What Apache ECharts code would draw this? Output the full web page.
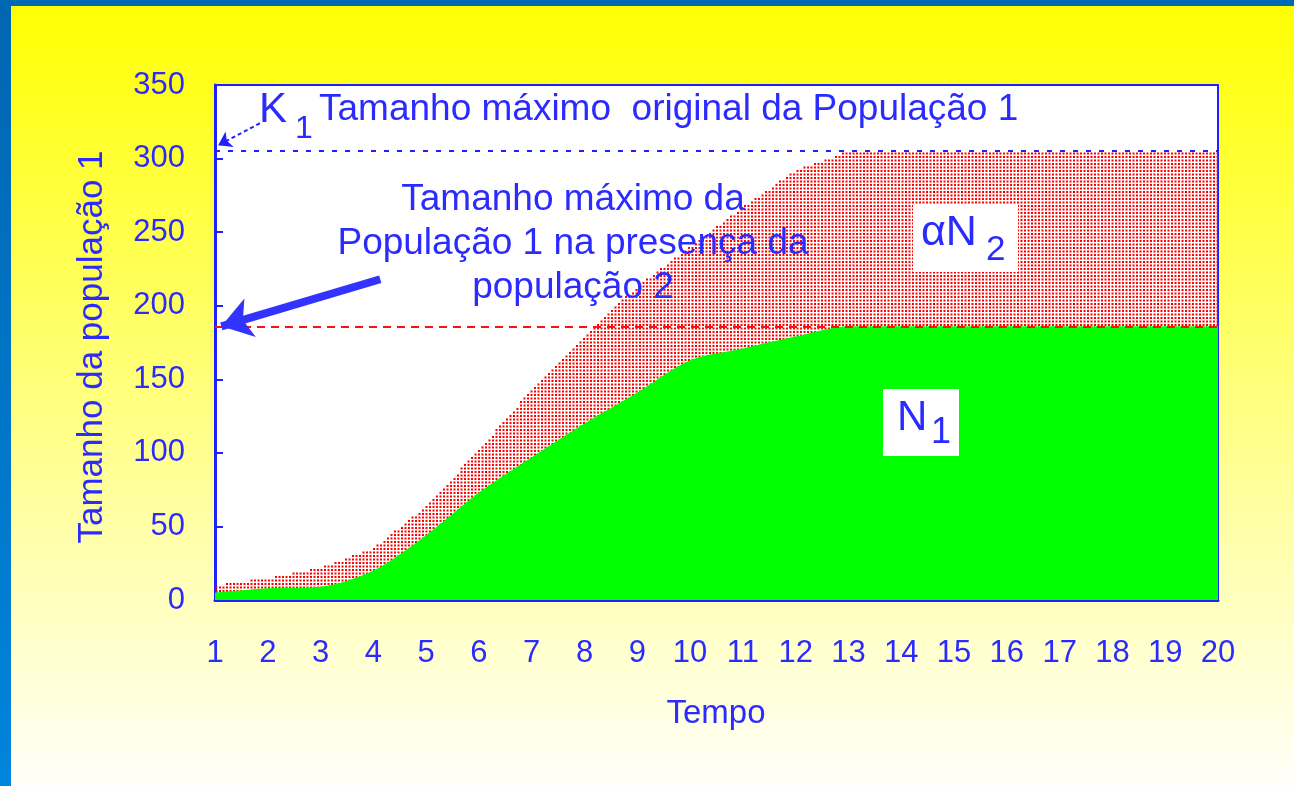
<!DOCTYPE html>
<html>
<head>
<meta charset="utf-8">
<script src="https://cdn.jsdelivr.net/npm/echarts@6/dist/echarts.min.js"></script>
<style>
html,body{margin:0;padding:0;width:1294px;height:786px;overflow:hidden;}
#c{width:1294px;height:786px;}
</style>
</head>
<body>
<div id="c"></div>
<script>
// ---- data ----
const tempo = [1,2,3,4,5,6,7,8,9,10,11,12,13,14,15,16,17,18,19,20];
const n1    = [5,8,9,20,44,73,97,120,141,163,171,179,186,186,186,186,186,186,186,186];
const total = [10,15,22,35,64,102,143,180,213,240,267,292,305,305,305,305,305,305,305,305];
const k1Original = 305;   // Tamanho máximo original da População 1
const k1Presence = 186;   // Tamanho máximo na presença da população 2
const yTitle = 'Tamanho da população 1';
const xTitle = 'Tempo';

const BLUE = '#2b2bff';
const FONT = '"Liberation Sans", Arial, sans-serif';

function interp(arr, t){
  for (let i = 0; i < tempo.length - 1; i++){
    if (t <= tempo[i+1]){
      const f = (t - tempo[i]) / (tempo[i+1] - tempo[i]);
      return arr[i] + f * (arr[i+1] - arr[i]);
    }
  }
  return arr[arr.length-1];
}

// dotted (αN2) region between N1 and N1+αN2, drawn through the axes
function renderDots(params, api){
  if (params.dataIndex !== 0) return null;
  const step = 3.5, s = 2.0;
  const tA = tempo[0], tB = tempo[tempo.length-1];
  const pA = api.coord([tA, 0]), pB = api.coord([tB, 0]);
  const yZero = pA[1];
  let d = '';
  for (let px = pA[0] + 1.5; px <= pB[0]; px += step){
    const t = tA + (px - pA[0]) / (pB[0] - pA[0]) * (tB - tA);
    const top = interp(total, t);
    const bot = Math.max(0, interp(n1, t) - 10);
    const yTop = api.coord([t, top])[1];
    const yBot = api.coord([t, bot])[1];
    for (let py = yZero - 2; py >= yTop; py -= step){
      if (py > yBot) continue;
      d += 'M' + (px - s/2).toFixed(2) + ' ' + (py - s/2).toFixed(2) + 'h' + s + 'v' + s + 'h-' + s + 'z';
    }
  }
  return {type:'path', shape:{pathData:d}, style:{fill:'#ff0000'}};
}

const chart = echarts.init(document.getElementById('c'), null, {renderer:'canvas'});

function txt(text, x, y, size, opts){
  opts = opts || {};
  return {
    type:'text', x:x, y:y, z:100, silent:true,
    rotation: opts.rotation || 0,
    style:{
      text:text, fill: BLUE, font: size + 'px ' + FONT,
      align: opts.align || 'left', textAlign: opts.align || 'left',
      verticalAlign: 'middle', textVerticalAlign: 'middle'
    }
  };
}

const option = {
  animation:false,
  backgroundColor:{type:'linear',x:0,y:0,x2:0,y2:1,colorStops:[{offset:0,color:'#ffff00'},{offset:1,color:'#fffffa'}]},
  grid:{left:215,right:76,top:85,bottom:186,show:true,backgroundColor:'#ffffff',borderColor:'#2020ff',borderWidth:2},
  xAxis:{
    type:'value', min:1, max:20, interval:1,
    axisLine:{show:true,onZero:false,lineStyle:{color:'#2020ff',width:3}},
    axisTick:{show:true,inside:true,length:8,lineStyle:{color:'#2020ff',width:2}},
    axisLabel:{color:BLUE,fontSize:31,fontFamily:FONT,margin:38},
    splitLine:{show:false}
  },
  yAxis:{
    type:'value', min:0, max:350, interval:50,
    axisLine:{show:true,lineStyle:{color:'#2020ff',width:3}},
    axisTick:{show:true,inside:true,length:8,lineStyle:{color:'#2020ff',width:2}},
    axisLabel:{color:BLUE,fontSize:31,fontFamily:FONT,margin:30},
    splitLine:{show:false}
  },
  series:[
    {
      name:'αN2', type:'custom', z:2, clip:true,
      data: tempo.map((t,i)=>[t,total[i]]),
      encode:{x:0,y:1},
      renderItem: renderDots
    },
    {
      name:'N1', type:'line', z:3,
      data: tempo.map((t,i)=>[t,n1[i]]),
      smooth:0.3, symbol:'none',
      lineStyle:{width:0},
      areaStyle:{color:'#00ff00',opacity:1},
      markLine:{
        silent:true, symbol:['none','none'], label:{show:false}, animation:false,
        data:[
          {yAxis:k1Original, lineStyle:{color:'#2020ff',width:2,type:[5,8]}},
          {yAxis:k1Presence, lineStyle:{color:'#ff1010',width:2,type:[8,6]}},
          [
            {coord:[4.13,218], symbol:'none', lineStyle:{color:'#3333ff',width:8,type:'solid'}},
            {coord:[1.12,186], symbol:'arrow', symbolSize:30}
          ],
          [
            {coord:[1.85,324], symbol:'none', lineStyle:{color:'#2020ff',width:2,type:[4,3]}},
            {coord:[1.06,309], symbol:'arrow', symbolSize:13}
          ]
        ]
      }
    }
  ],
  graphic:[
    {type:'rect', left:0, top:0, z:50, shape:{width:11,height:786}, style:{fill:{type:'linear',x:0,y:0,x2:0,y2:1,colorStops:[{offset:0,color:'#0066b0'},{offset:1,color:'#0084dc'}]}}},
    {type:'rect', left:0, top:0, z:50, shape:{width:1294,height:6}, style:{fill:'#0069b4'}},
    txt('K', 259, 110, 42),
    txt('1', 295, 129, 32),
    txt('Tamanho máximo  original da População 1', 319, 110, 37),
    txt('Tamanho máximo da', 573, 200, 37, {align:'center'}),
    txt('População 1 na presença da', 573, 244, 37, {align:'center'}),
    txt('população 2', 573, 288, 37, {align:'center'}),
    {type:'rect', x:913, y:205, z:90, shape:{width:105,height:67}, style:{fill:'#ffffff'}},
    txt('αN', 921, 233, 43),
    txt('2', 986, 250, 35),
    {type:'rect', x:883, y:389, z:90, shape:{width:76,height:67}, style:{fill:'#ffffff'}},
    txt('N', 897, 418, 42),
    txt('1', 931, 433, 36),
    txt(xTitle, 716, 714, 33, {align:'center'}),
    txt(yTitle, 92, 347, 35, {align:'center', rotation:Math.PI/2})
  ]
};
chart.setOption(option);
</script>
</body>
</html>
